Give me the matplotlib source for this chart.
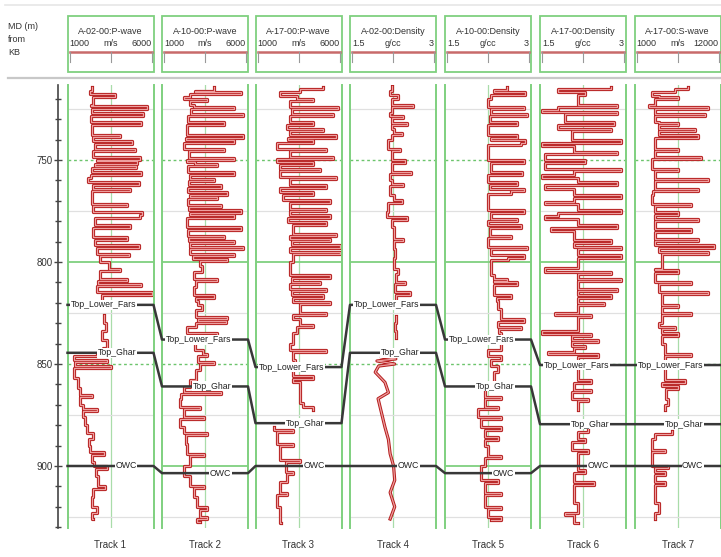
import numpy as np
import matplotlib.pyplot as plt
from matplotlib.ticker import MultipleLocator
from matplotlib.patches import Rectangle

plt.rcParams['font.family'] = ['Liberation Sans', 'DejaVu Sans']

# Well log correlation panel - 7 tracks, flattened display
nan = np.nan

titles = ['A-02-00:P-wave', 'A-10-00:P-wave', 'A-17-00:P-wave',
          'A-02-00:Density', 'A-10-00:Density', 'A-17-00:Density',
          'A-17-00:S-wave']
units = ['m/s', 'm/s', 'm/s', 'g/cc', 'g/cc', 'g/cc', 'm/s']
scale_min = [1000, 1000, 1000, 1.5, 1.5, 1.5, 1000]
scale_max = [6000, 6000, 6000, 3, 3, 3, 12000]
scale_min_lbl = ['1000', '1000', '1000', '1.5', '1.5', '1.5', '1000']
scale_max_lbl = ['6000', '6000', '6000', '3', '3', '3', '12000']
track_names = ['Track 1', 'Track 2', 'Track 3', 'Track 4', 'Track 5', 'Track 6', 'Track 7']

# formation tops (MD, m) per track
top_lower_fars = [821, 838, 851.5, 821, 838, 850.5, 850.5]
top_ghar = [844.5, 861, 879, 844.5, 861, 879.5, 879.5]
owc = [900, 903.5, 900, 900, 903.5, 900, 900]

# log curves: (depth, value)
t1_pwave = [(714.0, 2450), (716.0, 2300), (717.5, 3760), (719.0, 2500), (723.0, 2350), (723.5, 5600),
            (724.8, 2400), (727.0, 5400), (728.3, 2350), (731.4, 5300), (732.7, 2450), (737.5, 4050),
            (738.8, 2500), (740.8, 4750), (742.0, 2600), (744.5, 4900), (745.8, 2500), (748.5, 5200),
            (749.8, 2700), (750.5, 5050), (751.7, 2600), (752.8, 5000), (754.0, 2450), (755.9, 5250),
            (757.2, 2350), (759.0, 2200), (760.8, 5150), (762.0, 2500), (764.0, 4650), (765.3, 2400),
            (771.4, 4450), (772.7, 2500), (775.5, 5330), (777.1, 5200), (778.5, 2600), (782.0, 4650),
            (783.3, 2500), (787.8, 4450), (789.0, 2600), (791.8, 5150), (793.0, 2700), (795.9, 4550),
            (797.2, 2900), (800.0, 3400), (803.3, 4050), (804.5, 2900), (808.2, 4450), (809.3, 2800),
            (810.6, 5250), (811.8, 2700), (814.7, 5900), (816.0, 3000), (818.0, nan),
            (826.0, 3100), (830.0, 3250), (834.0, 3000), (838.0, 3300), (842.0, 3050), (844.5, 2700),
            (846.0, 1400), (848.0, 3300), (849.0, 1450), (851.0, 3500), (852.0, 1400), (857.0, 1600),
            (862.0, 1750), (865.0, 2400), (866.0, 1700), (870.0, 1900), (872.0, 2700), (873.0, 1900),
            (876.0, 2000), (880.0, 2150), (884.0, 2500), (887.0, 2250), (890.0, 2300), (893.0, 3100),
            (894.5, 2400), (898.0, 2550), (900.0, 3300), (901.5, 2650), (905.0, 2750), (910.0, 3200),
            (911.5, 2500), (915.0, 2450), (920.0, 2700), (923.0, 2400), (926.0, 2500)]

t2_pwave = [(714.0, 4000), (716.0, 2900), (716.7, 5590), (717.8, 2600), (719.2, 2250), (720.0, 3630),
            (721.0, 2650), (723.2, 2840), (724.0, 5195), (725.2, 2700), (727.3, 5690), (728.5, 2500),
            (731.4, 4600), (732.6, 2450), (737.9, 5690), (739.0, 2400), (740.4, 5195), (741.6, 2300),
            (744.5, 4600), (745.7, 2550), (749.0, 5195), (750.2, 2450), (751.0, 2900), (752.0, 4200),
            (753.0, 2500), (755.9, 5195), (757.1, 2600), (759.1, 4020), (760.3, 2550), (762.4, 4410),
            (763.6, 2500), (765.7, 4800), (766.9, 2600), (768.1, 4215), (769.3, 2500), (771.8, 4410),
            (773.0, 2550), (774.7, 5590), (775.9, 2600), (777.1, 5195), (778.3, 2450), (783.0, 5590),
            (784.2, 2500), (787.0, 4600), (788.2, 2550), (789.6, 5195), (790.8, 2600), (792.6, 5690),
            (793.8, 2650), (795.9, 5195), (797.1, 2800), (798.4, 4800), (799.6, 3200), (802.0, 3350),
            (805.0, 2840), (808.2, 4215), (809.4, 2950), (812.0, 2840), (816.3, 4020), (817.5, 3000),
            (819.0, 3100), (821.0, 3300), (823.5, 3000), (827.0, 4800), (828.0, 3100), (829.0, 4700),
            (830.0, 3000), (831.7, 2450), (835.0, 4215), (836.2, 2900), (843.0, 3400), (845.0, 3630),
            (846.0, 3100), (849.0, 4020), (850.0, 3200), (853.0, 3000), (858.0, 2650), (861.5, 2300),
            (863.5, 4410), (864.5, 2100), (867.0, 2060), (871.0, 3235), (872.0, 2250), (876.0, 3430),
            (877.0, 2060), (881.0, 2255), (884.0, 3630), (885.0, 2400), (889.0, 2450), (894.0, 3430),
            (895.0, 2650), (900.0, 2255), (905.0, 2650), (910.0, 3430), (911.0, 2840), (915.0, 3040),
            (920.0, 3630), (921.5, 3235), (925.0, 3630), (926.0, 3040), (927.5, 3235)]

t3_pwave = [(714.0, 4930), (715.0, 3600), (716.7, 2440), (718.5, 3400), (720.0, 4350), (721.2, 3000),
            (724.0, 5800), (725.2, 3100), (727.3, 5500), (728.5, 3000), (731.4, 4350), (732.6, 2820),
            (734.6, 4930), (735.8, 3000), (737.9, 5700), (739.1, 2900), (740.4, 4350), (741.6, 2245),
            (744.5, 5120), (745.7, 3010), (748.5, 5500), (749.7, 2245), (751.0, 4350), (752.2, 2440),
            (754.2, 4740), (755.4, 2440), (758.3, 5700), (759.5, 3000), (762.4, 5120), (763.6, 2440),
            (765.7, 4350), (766.9, 2600), (769.8, 5310), (771.0, 3000), (773.9, 5120), (775.1, 3010),
            (777.1, 5310), (778.3, 2900), (780.5, 5120), (782.0, 3200), (786.1, 5700), (787.3, 3000),
            (788.6, 5310), (789.8, 3100), (791.8, 5890), (793.0, 3000), (795.1, 5890), (796.3, 3200),
            (798.4, 3200), (800.0, 3010), (806.5, 5310), (807.7, 3100), (809.8, 4740), (811.0, 3000),
            (813.1, 5120), (814.3, 3100), (816.3, 4930), (817.5, 3200), (819.5, 5310), (820.7, 3590),
            (825.0, 5120), (826.2, 3200), (828.0, 3590), (831.0, 4350), (832.0, 3400), (835.0, 3200),
            (840.0, 3010), (843.0, 5120), (844.2, 3200), (848.0, 3300), (852.0, 3200), (856.0, 4350),
            (857.2, 3200), (859.0, 3590), (866.0, 3590), (869.0, 3780), (871.0, 4350), (872.5, nan),
            (881.0, 2050), (882.5, 3200), (883.5, 2245), (889.0, 3200), (890.0, 2440), (894.0, 2440),
            (897.0, 3590), (898.2, 2800), (903.0, 3200), (904.0, 2820), (908.0, 2440), (913.0, 2850),
            (914.0, 2245), (920.0, 2440), (928.0, 2500)]

t4_dens = [(713.5, 2.23), (716.0, 2.20), (718.0, 2.34), (720.0, 2.23), (723.2, 2.60), (724.2, 2.23),
           (727.0, 2.20), (728.5, 2.43), (729.5, 2.23), (732.0, 2.49), (733.0, 2.23), (735.0, 2.26),
           (736.5, 2.40), (737.5, 2.23), (740.4, 2.17), (744.5, 2.37), (745.7, 2.23), (750.2, 2.46),
           (751.4, 2.23), (755.9, 2.57), (757.0, 2.20), (760.0, 2.23), (761.5, 2.43), (762.7, 2.20),
           (767.3, 2.26), (769.8, 2.40), (771.0, 2.17), (775.5, 2.14), (778.0, 2.49), (779.2, 2.23),
           (783.0, 2.26), (788.6, 2.43), (789.8, 2.26), (793.5, 2.28), (798.0, 2.26), (803.3, 2.34),
           (806.0, 2.30), (809.8, 2.46), (811.0, 2.28), (814.7, 2.55), (816.0, 2.30), (818.0, nan),
           (826.5, 2.30), (830.0, 2.28), (834.0, 2.31), (836.0, 2.30), (837.0, nan),
           (846.5, 2.05), (847.5, 2.30), (848.5, 1.97), (850.0, 2.28), (851.0, 2.00), (854.0, 1.94),
           (859.0, 2.11), (864.0, 2.17), (867.0, 1.99), (874.0, 2.05), (881.0, 2.11), (887.0, 2.17),
           (894.0, 2.20), (900.0, 2.26), (907.0, 2.28), (913.0, 2.20), (920.0, 2.28), (926.0, 2.20)]

t5_dens = [(714.0, 2.59), (715.5, 2.36), (716.7, 2.90), (717.9, 2.30), (720.0, 2.25), (724.0, 2.87),
           (725.2, 2.30), (727.3, 2.93), (728.5, 2.28), (731.4, 2.76), (732.6, 2.25), (737.9, 2.76),
           (739.1, 2.30), (740.4, 2.90), (741.6, 2.82), (742.8, 2.25), (750.2, 2.87), (751.4, 2.30),
           (755.9, 2.85), (757.1, 2.25), (760.8, 2.76), (762.0, 2.28), (764.0, 2.87), (765.2, 2.65),
           (766.4, 2.25), (774.7, 2.87), (775.9, 2.30), (778.8, 2.76), (780.0, 2.25), (782.0, 2.82),
           (783.2, 2.28), (787.0, 2.65), (788.2, 2.25), (792.6, 2.93), (793.8, 2.30), (796.7, 2.87),
           (797.9, 2.60), (799.0, 2.30), (801.6, 2.30), (806.5, 2.36), (808.2, 2.59), (809.4, 2.36),
           (810.0, 2.76), (811.2, 2.36), (816.3, 2.65), (817.5, 2.40), (819.0, 2.42), (823.0, 2.48),
           (828.0, 2.87), (829.2, 2.42), (831.7, 2.82), (832.9, 2.45), (835.0, 2.48), (843.0, 2.25),
           (846.0, 2.48), (848.0, 2.30), (851.0, 2.42), (854.0, 2.36), (861.5, 2.19), (866.0, 2.48),
           (867.2, 2.19), (871.0, 2.42), (872.2, 2.07), (876.0, 2.48), (877.2, 2.13), (881.0, 2.48),
           (882.2, 2.19), (886.0, 2.42), (887.2, 2.19), (890.0, 2.25), (895.0, 2.48), (896.2, 2.19),
           (900.0, 2.13), (907.0, 2.42), (908.2, 2.19), (913.0, 2.48), (914.2, 2.19), (920.0, 2.48),
           (921.2, 2.25), (925.0, 2.48), (926.5, 2.30)]

t6_dens = [(714.0, 2.74), (715.0, 1.82), (716.7, 2.28), (718.0, 2.16), (720.0, 2.16), (723.2, 2.85),
           (724.2, 1.82), (725.5, 1.53), (726.3, 2.85), (727.3, 1.93), (731.4, 2.79), (732.6, 1.82),
           (734.6, 2.74), (735.8, 2.05), (740.4, 2.91), (741.6, 1.53), (743.0, 2.10), (746.0, 2.85),
           (747.2, 1.59), (750.2, 2.28), (751.4, 1.59), (754.2, 2.91), (755.4, 2.10), (757.5, 1.53),
           (758.7, 2.16), (760.8, 2.85), (762.0, 1.59), (764.0, 2.10), (767.3, 2.91), (768.5, 2.10),
           (770.5, 1.59), (771.7, 2.16), (774.7, 2.91), (775.9, 1.82), (777.5, 1.59), (778.7, 2.16),
           (782.0, 2.85), (783.2, 1.70), (785.0, 2.10), (789.4, 2.74), (790.6, 2.10), (792.6, 2.91),
           (793.8, 2.16), (796.7, 2.91), (797.9, 2.16), (800.0, 2.16), (803.0, 1.59), (804.9, 2.74),
           (806.1, 2.16), (808.2, 2.91), (809.4, 2.16), (813.1, 2.85), (814.3, 2.16), (816.3, 2.74),
           (817.5, 2.16), (820.0, 2.62), (821.2, 2.16), (825.0, 1.76), (826.0, 2.39), (827.0, 2.16),
           (828.0, 2.16), (834.0, 1.53), (835.2, 2.39), (836.4, 2.05), (838.0, 2.51), (839.2, 2.05),
           (841.0, 2.28), (842.2, 2.10), (844.0, 1.64), (845.2, 2.51), (846.4, 2.16), (847.0, 2.16),
           (858.0, 2.39), (859.2, 2.10), (862.7, 2.39), (863.9, 2.05), (867.0, 2.34), (868.2, 2.16),
           (872.5, nan), (882.0, 2.34), (883.2, 2.16), (887.0, 2.28), (888.2, 2.05), (892.0, 2.34),
           (893.5, 2.16), (897.0, 2.16), (902.0, 2.28), (903.2, 2.10), (908.0, 2.45), (909.5, 2.10),
           (913.0, 2.10), (918.0, 2.16), (923.0, 1.93), (924.2, 2.10), (928.0, 2.16)]

t7_swave = [(714.0, 7860), (715.0, 6180), (716.7, 3230), (718.5, 4080), (719.2, 6600), (720.3, 3650),
            (723.2, 2810), (724.0, 10390), (725.2, 3650), (727.3, 9970), (728.5, 3650), (731.4, 4080),
            (732.0, 6600), (733.0, 4080), (734.6, 8700), (735.8, 4080), (737.9, 9130), (739.1, 3650),
            (741.2, 3650), (744.5, 6600), (745.7, 3650), (748.5, 9550), (749.7, 3230), (754.2, 6600),
            (755.4, 3650), (759.1, 10390), (760.3, 3650), (764.0, 9130), (765.2, 3400), (767.3, 3230),
            (771.4, 8280), (772.6, 3650), (775.5, 6600), (776.7, 3650), (778.8, 9130), (780.0, 3650),
            (784.0, 8280), (785.2, 3650), (788.6, 9130), (789.8, 3650), (791.8, 11230), (793.0, 4080),
            (795.1, 10390), (796.3, 4500), (800.0, 4500), (803.3, 3650), (804.0, 6600), (805.2, 3650),
            (809.8, 8280), (811.0, 4080), (814.7, 10390), (815.9, 4500), (820.0, 4500), (821.0, 6600),
            (822.0, 4500), (825.0, 8280), (826.2, 4500), (830.0, 4080), (832.0, 6180), (833.0, 4500),
            (835.0, 6600), (836.2, 4500), (840.0, 4920), (845.0, 8280), (846.2, 4920), (848.0, 4920),
            (858.0, 7440), (859.2, 4500), (861.0, 6600), (862.2, 5000), (867.0, 5340), (870.0, 4920),
            (872.5, nan), (883.0, 5760), (884.2, 3650), (887.0, 3230), (892.0, 4920), (893.2, 3230),
            (897.0, 3230), (900.0, 5340), (901.2, 3650), (903.0, 4920), (904.2, 3650), (908.0, 4920),
            (909.2, 3650), (913.0, 3650), (918.0, 4080), (923.0, 3650), (926.0, 3650)]

curves = [t1_pwave, t2_pwave, t3_pwave, t4_dens, t5_dens, t6_dens, t7_swave]

# layout (pixels)
W, H = 721, 557
TOP_PX, BOT_PX = 85, 528
D_TOP, D_BOT = 713.2, 930.4
track_left = [67.5, 162, 255.5, 350, 445, 540, 634.5]
track_w = 86
GREEN = '#7fd07f'

fig = plt.figure(figsize=(W / 100, H / 100), dpi=100)
fig.patch.set_facecolor('white')
hfrac = (BOT_PX - TOP_PX) / H
bfrac = 1 - BOT_PX / H

# header / decorations in pixel coords
hdr = fig.add_axes([0, 0, 1, 1])
hdr.set_xlim(0, W)
hdr.set_ylim(H, 0)
hdr.axis('off')
hdr.plot([5, W], [5, 5], color='#e6e6e6', lw=1.2)
hdr.plot([8, W], [78, 78], color='#c8c8c8', lw=1.6)
hdr.text(8, 22, 'MD (m)\nfrom\nKB', fontsize=6.5, va='top', ha='left', color='#333333', linespacing=1.6)

for i in range(7):
    L = track_left[i]
    R = L + track_w
    hdr.add_patch(Rectangle((L, 16), track_w, 56, fill=False, ec=GREEN, lw=1.3))
    hdr.text((L + R) / 2, 31, titles[i], fontsize=6.5, ha='center', va='center', color='#333333')
    hdr.text(L + 2, 43, scale_min_lbl[i], fontsize=6.5, ha='left', va='center', color='#333333')
    hdr.text((L + R) / 2, 43, units[i], fontsize=6.5, ha='center', va='center', color='#333333')
    hdr.text(R - 2, 43, scale_max_lbl[i], fontsize=6.5, ha='right', va='center', color='#333333')
    hdr.plot([L + 2, R - 2], [52, 52], color='#c86a6a', lw=1.8)
    for tx in [L + 2, (L + R) / 2, R - 2]:
        hdr.plot([tx, tx], [52, 62], color='#999999', lw=0.8)
    hdr.text((L + R) / 2, 545, track_names[i], fontsize=7, ha='center', va='center', color='#333333')

# tracks
for i in range(7):
    ax = fig.add_axes([track_left[i] / W, bfrac, track_w / W, hfrac])
    smin, smax = scale_min[i], scale_max[i]
    ax.set_xlim(smin, smax)
    ax.set_ylim(D_BOT, D_TOP)
    ax.set_xticks([])
    ax.set_yticks([])
    ax.patch.set_alpha(0)
    for s in ['top', 'bottom']:
        ax.spines[s].set_visible(False)
    for s in ['left', 'right']:
        ax.spines[s].set_color(GREEN)
        ax.spines[s].set_linewidth(1.4)
    ax.axvline((smin + smax) / 2, color='#a9dca9', lw=0.9, zorder=1)
    for d in [725, 775, 825, 875, 925]:
        ax.axhline(d, color='#e0e0e0', lw=0.9, zorder=1)
    for d in [750, 850]:
        ax.axhline(d, color='#6cc46c', lw=1.0, ls=(0, (2, 2)), zorder=1)
    for d in [800, 900]:
        ax.axhline(d, color=GREEN, lw=1.3, zorder=1)

    d, v = np.array(curves[i], dtype=float).T
    if i == 3:
        # A-02 density: blocky above the Ghar, smooth trace below
        up = d < 840
        parts = [(d[up], v[up], 'steps-pre'), (d[~up], v[~up], 'default')]
    else:
        parts = [(d, v, 'steps-pre')]
    for dd, vv, style in parts:
        ax.plot(vv, dd, drawstyle=style, color='#b41c1c', lw=2.3, zorder=2)
        ax.plot(vv, dd, drawstyle=style, color='#ee9f9f', lw=0.9, zorder=2)

# formation tops overlay
ov = fig.add_axes([0, bfrac, 1, hfrac])
ov.set_xlim(0, W)
ov.set_ylim(D_BOT, D_TOP)
ov.axis('off')
for name, depths in [('Top_Lower_Fars', top_lower_fars), ('Top_Ghar', top_ghar), ('OWC', owc)]:
    xs, ys = [], []
    for L, dd in zip(track_left, depths):
        xs += [L, L + track_w]
        ys += [dd, dd]
    ov.plot(xs, ys, color='#383838', lw=1.8, zorder=3)
    for L, dd in zip(track_left, depths):
        ov.text(L + track_w - 17, dd, name, fontsize=6.3, ha='right', va='center', color='#222222',
                bbox=dict(fc='white', ec='none', pad=0.4), zorder=4)

# depth axis
dax = fig.add_axes([58 / W, bfrac, 0.0001, hfrac])
dax.set_ylim(D_BOT, D_TOP)
dax.patch.set_alpha(0)
for s in ['top', 'bottom', 'right']:
    dax.spines[s].set_visible(False)
dax.spines['left'].set_color('#444444')
dax.spines['left'].set_linewidth(1.2)
dax.set_xticks([])
dax.yaxis.set_major_locator(MultipleLocator(50))
dax.yaxis.set_minor_locator(MultipleLocator(10))
dax.tick_params(axis='y', which='major', direction='inout', length=6, width=1, color='#444444',
                labelsize=7, labelcolor='#333333', pad=1)
dax.tick_params(axis='y', which='minor', direction='inout', length=4, width=1, color='#444444')

plt.savefig('out.png', dpi=100)
